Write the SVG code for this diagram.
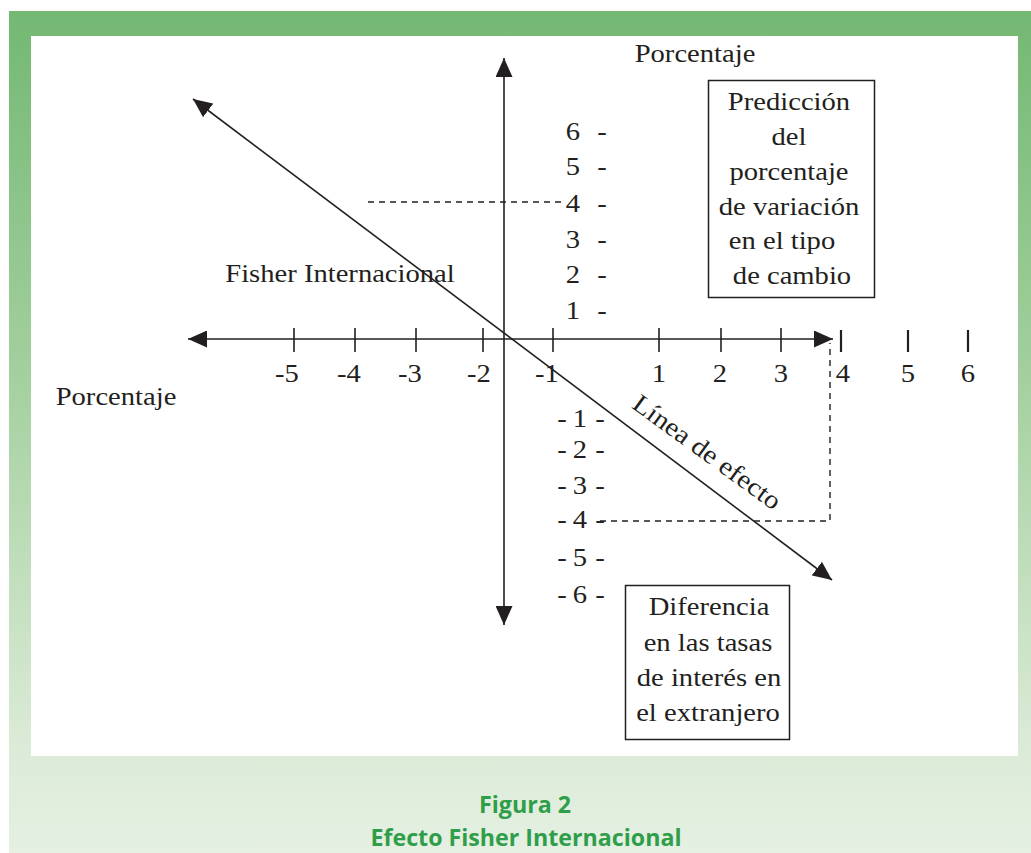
<svg xmlns="http://www.w3.org/2000/svg" width="1031" height="853" viewBox="0 0 1031 853">
<style>
.t{font-family:"Liberation Serif","Times New Roman",serif;font-size:26px;fill:#231f20}
.m{text-anchor:middle}
.ax{stroke:#231f20;stroke-width:1.6;fill:none}
.tk{stroke:#231f20;stroke-width:1.6}
.tk2{stroke:#231f20;stroke-width:2.2}
.ds{stroke:#231f20;stroke-width:1.4;stroke-dasharray:6 5;fill:none}
.box{fill:#fff;stroke:#231f20;stroke-width:1.5}
.cap{font-family:"Open Sans","Liberation Sans",sans-serif;font-weight:bold;font-size:24px;fill:#2f9e4a;text-anchor:middle}
</style>
<defs>
<linearGradient id="bg" x1="0" y1="11" x2="0" y2="853" gradientUnits="userSpaceOnUse">
<stop offset="0" stop-color="#73b873"/>
<stop offset="0.42" stop-color="#a2cf9d"/>
<stop offset="0.88" stop-color="#dcebd8"/>
<stop offset="1" stop-color="#e5f0e2"/>
</linearGradient>
<marker id="ah" viewBox="0 0 19 17" refX="19" refY="8.5" markerWidth="19" markerHeight="17" markerUnits="userSpaceOnUse" orient="auto-start-reverse">
<path d="M0,0 L19,8.5 L0,17 z" fill="#231f20"/>
</marker>
</defs>
<rect x="9" y="11" width="1022" height="842" fill="url(#bg)"/>
<rect x="31" y="36" width="987" height="720" fill="#fff"/>

<g id="connectors">
<line class="ax" x1="188" y1="339" x2="833" y2="339" marker-start="url(#ah)" marker-end="url(#ah)"/>
<line class="ax" x1="504" y1="58" x2="504" y2="625" marker-start="url(#ah)" marker-end="url(#ah)"/>
<line class="ax" x1="193" y1="99" x2="832" y2="580" marker-start="url(#ah)" marker-end="url(#ah)"/>
<g id="ticks">
<line class="tk" x1="294" y1="328" x2="294" y2="352"/>
<line class="tk" x1="355" y1="328" x2="355" y2="352"/>
<line class="tk" x1="416" y1="328" x2="416" y2="352"/>
<line class="tk" x1="483" y1="328" x2="483" y2="352"/>
<line class="tk" x1="553" y1="328" x2="553" y2="352"/>
<line class="tk" x1="659" y1="328" x2="659" y2="352"/>
<line class="tk" x1="721" y1="328" x2="721" y2="352"/>
<line class="tk" x1="781" y1="328" x2="781" y2="352"/>
<line class="tk2" x1="841" y1="330" x2="841" y2="352"/>
<line class="tk2" x1="908" y1="330" x2="908" y2="352"/>
<line class="tk2" x1="968" y1="330" x2="968" y2="352"/>
</g>
<path class="ds" d="M368,202 H563"/>
<path class="ds" d="M600,521 H830 V343"/>
</g>

<g id="x-labels" class="t m">
<text transform="matrix(1.1 0 0 1 287 382)">-5</text>
<text transform="matrix(1.1 0 0 1 349 382)">-4</text>
<text transform="matrix(1.1 0 0 1 410 382)">-3</text>
<text transform="matrix(1.1 0 0 1 479 382)">-2</text>
<text transform="matrix(1.1 0 0 1 547 382)">-1</text>
<text transform="matrix(1.1 0 0 1 659 382)">1</text>
<text transform="matrix(1.1 0 0 1 720 382)">2</text>
<text transform="matrix(1.1 0 0 1 781 382)">3</text>
<text transform="matrix(1.1 0 0 1 843 382)">4</text>
<text transform="matrix(1.1 0 0 1 908 382)">5</text>
<text transform="matrix(1.1 0 0 1 968 382)">6</text>
</g>

<g id="y-labels" class="t m">
<text transform="matrix(1.1 0 0 1 573 140)">6</text><text transform="matrix(1.1 0 0 1 602 140)">-</text>
<text transform="matrix(1.1 0 0 1 573 175)">5</text><text transform="matrix(1.1 0 0 1 602 175)">-</text>
<text transform="matrix(1.1 0 0 1 573 212)">4</text><text transform="matrix(1.1 0 0 1 602 212)">-</text>
<text transform="matrix(1.1 0 0 1 573 248)">3</text><text transform="matrix(1.1 0 0 1 602 248)">-</text>
<text transform="matrix(1.1 0 0 1 573 283)">2</text><text transform="matrix(1.1 0 0 1 602 283)">-</text>
<text transform="matrix(1.1 0 0 1 573 319)">1</text><text transform="matrix(1.1 0 0 1 602 319)">-</text>
<text transform="matrix(1.1 0 0 1 562 427)">-</text><text transform="matrix(1.1 0 0 1 580 427)">1</text><text transform="matrix(1.1 0 0 1 600 427)">-</text>
<text transform="matrix(1.1 0 0 1 562 458)">-</text><text transform="matrix(1.1 0 0 1 580 458)">2</text><text transform="matrix(1.1 0 0 1 600 458)">-</text>
<text transform="matrix(1.1 0 0 1 562 494)">-</text><text transform="matrix(1.1 0 0 1 580 494)">3</text><text transform="matrix(1.1 0 0 1 600 494)">-</text>
<text transform="matrix(1.1 0 0 1 562 528)">-</text><text transform="matrix(1.1 0 0 1 580 528)">4</text><text transform="matrix(1.1 0 0 1 600 528)">-</text>
<text transform="matrix(1.1 0 0 1 562 566)">-</text><text transform="matrix(1.1 0 0 1 580 566)">5</text><text transform="matrix(1.1 0 0 1 600 566)">-</text>
<text transform="matrix(1.1 0 0 1 562 603)">-</text><text transform="matrix(1.1 0 0 1 580 603)">6</text><text transform="matrix(1.1 0 0 1 600 603)">-</text>
</g>

<g id="label-porcentaje-y" class="t m"><text transform="matrix(1.1 0 0 1 695 62)">Porcentaje</text></g>
<g id="label-porcentaje-x" class="t m"><text transform="matrix(1.1 0 0 1 116 405)">Porcentaje</text></g>
<g id="label-fisher" class="t m"><text transform="matrix(1.1 0 0 1 340 282)">Fisher Internacional</text></g>
<g id="label-linea" class="t m"><text transform="translate(702,459) rotate(36) scale(1.1,1)">Línea de efecto</text></g>

<g id="box-prediccion">
<rect class="box" x="708.5" y="80.5" width="166" height="217"/>
<g class="t m">
<text transform="matrix(1.1 0 0 1 789 110)">Predicción</text>
<text transform="matrix(1.1 0 0 1 789 145)">del</text>
<text transform="matrix(1.1 0 0 1 789 180)">porcentaje</text>
<text transform="matrix(1.1 0 0 1 789 215)">de variación</text>
<text transform="matrix(1.1 0 0 1 782 249)">en el tipo</text>
<text transform="matrix(1.1 0 0 1 792 284)">de cambio</text>
</g>
</g>

<g id="box-diferencia">
<rect class="box" x="625.5" y="585.5" width="164" height="154"/>
<g class="t m">
<text transform="matrix(1.1 0 0 1 709 615)">Diferencia</text>
<text transform="matrix(1.1 0 0 1 708 651)">en las tasas</text>
<text transform="matrix(1.1 0 0 1 709 686)">de interés en</text>
<text transform="matrix(1.1 0 0 1 708 721)">el extranjero</text>
</g>
</g>

<g id="caption">
<text class="cap" x="525" y="813" textLength="92" lengthAdjust="spacingAndGlyphs">Figura 2</text>
<text class="cap" x="526" y="846" textLength="311" lengthAdjust="spacingAndGlyphs">Efecto Fisher Internacional</text>
</g>
</svg>
